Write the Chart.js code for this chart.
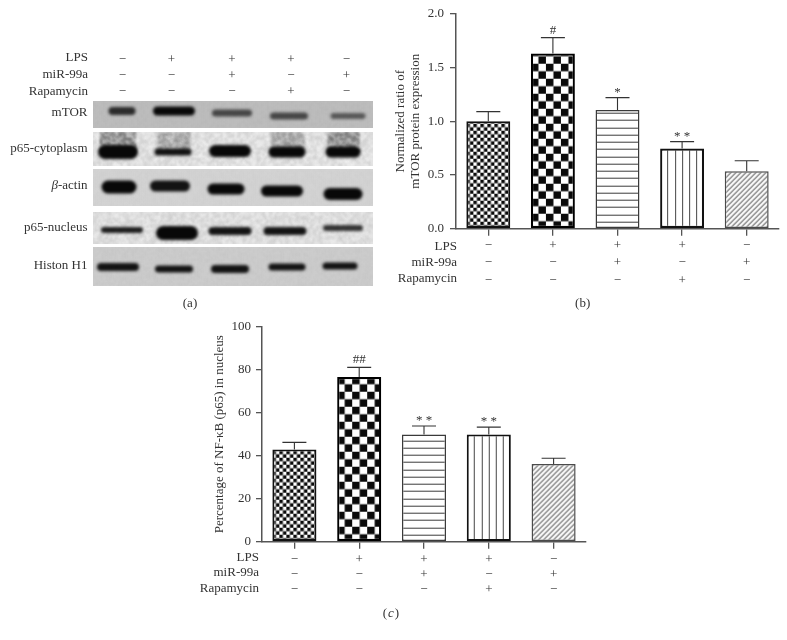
<!DOCTYPE html>
<html><head><meta charset="utf-8">
<script src="https://cdn.jsdelivr.net/npm/chart.js@4"></script>
<style>html,body{margin:0;padding:0;background:#fff;width:787px;height:640px;overflow:hidden}canvas{position:absolute}</style>
</head><body>
<canvas id="a" width="390" height="280" style="left:0;top:40px"></canvas>
<canvas id="b" width="397" height="320" style="left:390px;top:0"></canvas>
<canvas id="c" width="400" height="330" style="left:200px;top:310px"></canvas>
<script>
const groups=['Control','LPS','LPS + miR-99a','LPS + Rapamycin','miR-99a'];
const factorNames=['LPS','miR-99a','Rapamycin'];
const lps=['−','+','+','+','−'];
const mir=['−','−','+','−','+'];
const rapa=['−','−','−','+','−'];
const mtorValues=[1.0,1.63,1.105,0.747,0.534];
const mtorErrTop=[1.09,1.778,1.22,0.81,0.633];
const mtorMarks=['','#','*','* *',''];
const mtorTicks=[0,0.5,1,1.5,2];
const nfkbValues=[42.9,76.6,49.9,49.9,36.1];
const nfkbErrTop=[46.2,81.1,53.8,53.3,38.8];
const nfkbMarks=['','##','* *','* *',''];
const nfkbTicks=[0,20,40,60,80,100];
const patternKinds=['fine','coarse','hlines','vlines','diag'];
const barEdge=['#111','#000','#3a3a3a','#111','#4a4a4a'];

// Western blot read-offs (gel units)
const blotRows=['mTOR','p65-cytoplasm','β-actin','p65-nucleus','Histon H1'];
const rowTop=[0,31,68,111,146];
const rowBottom=[27,65,105,143,185];
const rowShade=[190,226,212,224,204];
const rowNoise=[4,26,4,24,5];
const bandX=[[29,81,139,196,255],[25,80,137,194,250],[26,77,133,189,250],[29,84,137,192,250],[25,81,137,194,247]];
const bandY=[[10,10,12,15,15],[51,51,50,51,51],[86,85,88,90,93],[129,132,130,130,127],[166,168,168,166,165]];
const bandW=[[27,42,40,38,35],[40,37,42,37,35],[35,40,37,42,39],[42,42,43,43,40],[42,38,38,37,35]];
const bandH=[[8,9,7,7,6],[14,7,12,11,11],[13,11,11,11,12],[6,14,8,8,6],[8,7,8,7,7]];
const bandAlpha=[[.8,1,.65,.65,.55],[1,.95,1,1,1],[1,.95,1,1,1],[.9,1,.95,.95,.8],[.95,.95,.95,.95,.95]];
const smear=[[0,0,0,0,0],[.55,.35,0,.35,.6],[0,0,0,0,0],[0,0,0,0,0],[0,0,0,0,0]];
const laneX=[29.5,78.5,139,198,253.5];
const factorRowY=[-41,-25,-9.5];
const labelRowY=[-43.5,-26,-9];
const rowLabelY=[11.7,48,85,127,165];

const SERIF='"Liberation Serif", serif';
const INK='#333';

function tile(kind){
  const c=document.createElement('canvas');const g=c.getContext('2d');
  const s={fine:7,coarse:15,hlines:7.25,vlines:7.25,diag:5}[kind];
  c.width=kind==='hlines'?1:Math.round(s*(kind==='vlines'?4:1));
  c.height=kind==='vlines'?1:Math.round(s*(kind==='hlines'?4:1));
  g.fillStyle='#fff';g.fillRect(0,0,c.width,c.height);
  if(kind==='fine'||kind==='coarse'){
    const h=c.width/2;g.fillStyle='#0a0a0a';g.fillRect(0,0,h,h);g.fillRect(h,h,h,h);
  }else if(kind==='hlines'){
    g.fillStyle='#3a3a3a';for(let i=0;i<4;i++)g.fillRect(0,Math.round(i*s),1,1);
  }else if(kind==='vlines'){
    g.fillStyle='#444';for(let i=0;i<4;i++)g.fillRect(Math.round(i*s),0,1,1);
  }else{
    g.strokeStyle='#666';g.lineWidth=1.2;
    g.beginPath();g.moveTo(-1,6);g.lineTo(6,-1);g.moveTo(-1,1);g.lineTo(1,-1);g.moveTo(4,6);g.lineTo(6,4);g.stroke();
  }
  return c;
}
function fillFor(ctx){
  const chart=ctx.chart,kind=patternKinds[ctx.dataIndex];
  const p=chart.ctx.createPattern(tile(kind),'repeat');
  if(chart.chartArea&&chart.scales.x&&chart.scales.y){
    const slot=chart.chartArea.width/groups.length;
    const left=chart.scales.x.getPixelForValue(ctx.dataIndex)-slot*0.34;
    p.setTransform(new DOMMatrix().translate(left,chart.scales.y.bottom));
  }
  return p;
}
const barPlugin={
  id:'barExtras',
  afterDatasetsDraw(chart,_a,o){
    const {ctx,scales:{x,y}}=chart;
    ctx.save();
    o.errTop.forEach((v,i)=>{
      const px=x.getPixelForValue(i),top=y.getPixelForValue(v),base=y.getPixelForValue(o.values[i]);
      ctx.strokeStyle='#333';ctx.lineWidth=1.1;
      ctx.beginPath();ctx.moveTo(px,base);ctx.lineTo(px,top);ctx.moveTo(px-12,top);ctx.lineTo(px+12,top);ctx.stroke();
      if(o.marks[i]){
        ctx.fillStyle='#333';ctx.textAlign='center';ctx.textBaseline='middle';
        ctx.font='13px '+SERIF;
        ctx.fillText(o.marks[i],px,top-(o.marks[i].includes('#')?7.5:5.5));
      }
    });
    ctx.font='13px '+SERIF;ctx.fillStyle=INK;ctx.textAlign='right';ctx.textBaseline='middle';
    factorNames.forEach((n,i)=>ctx.fillText(n,chart.chartArea.left+o.labelDx,o.labelY[i]));
    ctx.textAlign='center';
    if(o.captionItalic){
      ctx.font='13px '+SERIF;
      ctx.fillText('(',o.captionX-6,o.captionY);ctx.fillText(')',o.captionX+6,o.captionY);
      ctx.font='italic 13px '+SERIF;ctx.fillText(o.caption,o.captionX,o.captionY);
    }else ctx.fillText('('+o.caption+')',o.captionX,o.captionY);
    ctx.restore();
  }
};
function barChart(id,values,errTop,marks,tickVals,cfg){
  return new Chart(document.getElementById(id),{
    type:'bar',
    data:{labels:groups,datasets:[{data:values,backgroundColor:fillFor,borderColor:barEdge,borderWidth:cfg.borders,borderSkipped:false,barPercentage:.68,categoryPercentage:1}]},
    plugins:[barPlugin],
    options:{
      responsive:false,animation:false,
      layout:{padding:{top:cfg.top,right:cfg.right,left:0,bottom:0}},
      plugins:{legend:{display:false},tooltip:{enabled:false},
        barExtras:{errTop,values,marks,labelDx:cfg.labelDx,labelY:cfg.labelY,caption:cfg.caption,captionX:cfg.captionX,captionY:cfg.captionY,captionItalic:cfg.captionItalic}},
      scales:{
        x:{grid:{offset:false,drawOnChartArea:false,tickLength:7,color:'#555',lineWidth:1.3},
           border:{color:'#555',width:1.5},
           afterFit(s){s.height=cfg.xh},
           ticks:{autoSkip:false,maxRotation:0,minRotation:0,padding:cfg.tickPad,color:'#333',
             font:{family:SERIF,size:13,lineHeight:cfg.rowH},
             callback:(v,i)=>[lps[i],mir[i],rapa[i]]}},
        y:{min:0,max:cfg.max,grid:{drawOnChartArea:false,tickLength:6,color:'#555',lineWidth:1.3},
           border:{color:'#555',width:1.5},
           afterFit(s){s.width=cfg.yw},
           afterBuildTicks(s){s.ticks=tickVals.map(v=>({value:v}))},
           ticks:{padding:cfg.yPad,color:INK,font:{family:SERIF,size:13},callback:cfg.fmt},
           title:{display:true,text:cfg.title,color:INK,font:{family:SERIF,size:13,lineHeight:1.15},padding:{top:cfg.titleTop,bottom:0}}}
      }
    }
  });
}
barChart('b',mtorValues,mtorErrTop,mtorMarks,mtorTicks,{
  top:12.7,right:8,max:2,xh:91.3,yw:66,yPad:6,tickPad:1,rowH:1.35,borders:[2,2.2,1.5,2.2,1.5],
  labelDx:1,labelY:[247,263,279],caption:'b',captionX:192.7,captionY:304,captionItalic:false,
  fmt:v=>v.toFixed(1),title:['Normalized ratio of','mTOR protein expression'],titleTop:3});
barChart('c',nfkbValues,nfkbErrTop,nfkbMarks,nfkbTicks,{
  top:16.7,right:14,max:100,xh:98.3,yw:62,yPad:5,tickPad:3,rowH:1.18,borders:[2,2.2,1.5,2,1.5],
  labelDx:-3,labelY:[248,263,279],caption:'c',captionX:191,captionY:304,captionItalic:true,
  fmt:v=>v,title:'Percentage of NF-κB (p65) in nucleus',titleTop:12});

const blotPlugin={
  id:'blot',
  beforeDatasetsDraw(chart){
    const {ctx,scales:{x,y}}=chart;
    const hash=(a,b)=>{const s=Math.sin(a*127.1+b*311.7)*43758.5453;return s-Math.floor(s)};
    const L=x.getPixelForValue(0),R=x.getPixelForValue(280);
    blotRows.forEach((name,r)=>{
      const T=y.getPixelForValue(rowTop[r]),B=y.getPixelForValue(rowBottom[r]);
      ctx.save();ctx.beginPath();ctx.rect(L,T,R-L,B-T);ctx.clip();
      const v=rowShade[r];ctx.fillStyle=`rgb(${v},${v},${v})`;ctx.fillRect(L,T,R-L,B-T);
      ctx.filter='blur(0.8px)';
      for(let a=0;a<R-L;a+=2)for(let b=0;b<B-T;b+=2){
        const n=(hash(a+r*7,b)-.5)*rowNoise[r]*2,c=Math.max(0,Math.min(255,v+n))|0;
        ctx.fillStyle=`rgb(${c},${c},${c})`;ctx.fillRect(L+a,T+b,2,2);
      }
      const pts=chart.getDatasetMeta(r).data;
      pts.forEach((p,i)=>{
        const w=bandW[r][i],h=bandH[r][i];
        if(smear[r][i]){
          ctx.filter='blur(0.9px)';
          for(let a=-w/2+2;a<w/2-2;a+=2)for(let b=T;b<p.y;b+=2){
            ctx.fillStyle=`rgba(20,20,20,${smear[r][i]*(.15+hash(a+i*31,b)*1.1)})`;
            ctx.fillRect(p.x+a,b,2,2);
          }
        }
        ctx.filter='blur(1.4px)';ctx.fillStyle=`rgba(8,8,8,${bandAlpha[r][i]})`;
        ctx.beginPath();ctx.roundRect(p.x-w/2,p.y-h/2,w,h,h/2);ctx.fill();
      });
      ctx.restore();
    });
  },
  afterDatasetsDraw(chart){
    const {ctx,scales:{x,y}}=chart;
    ctx.save();ctx.fillStyle=INK;ctx.textBaseline='middle';
    ctx.font='13px '+SERIF;
    ctx.textAlign='right';
    factorNames.forEach((n,i)=>ctx.fillText(n,x.getPixelForValue(-5),y.getPixelForValue(labelRowY[i])));
    blotRows.forEach((n,i)=>{
      const ty=y.getPixelForValue(rowLabelY[i]),tx=x.getPixelForValue(-5.5);
      if(n[0]==='β'){
        const rest=n.slice(1);ctx.fillText(rest,tx,ty);
        const w=ctx.measureText(rest).width;
        ctx.font='italic 13px '+SERIF;ctx.fillText('β',tx-w,ty);ctx.font='13px '+SERIF;
      }else ctx.fillText(n,tx,ty);
    });
    ctx.textAlign='center';
    [lps,mir,rapa].forEach((row,i)=>row.forEach((s,j)=>ctx.fillText(s,x.getPixelForValue(laneX[j]),y.getPixelForValue(factorRowY[i]))));
    ctx.fillText('(a)',x.getPixelForValue(97),y.getPixelForValue(203));
    ctx.restore();
  }
};
new Chart(document.getElementById('a'),{
  type:'scatter',
  data:{datasets:blotRows.map((n,r)=>({label:n,data:bandX[r].map((v,i)=>({x:v,y:bandY[r][i]})),pointRadius:0}))},
  plugins:[blotPlugin],
  options:{responsive:false,animation:false,
    layout:{padding:{left:93,top:61,right:17,bottom:34}},
    plugins:{legend:{display:false},tooltip:{enabled:false}},
    scales:{x:{display:false,min:0,max:280},y:{display:false,min:0,max:185,reverse:true}}}
});
</script>
</body></html>
